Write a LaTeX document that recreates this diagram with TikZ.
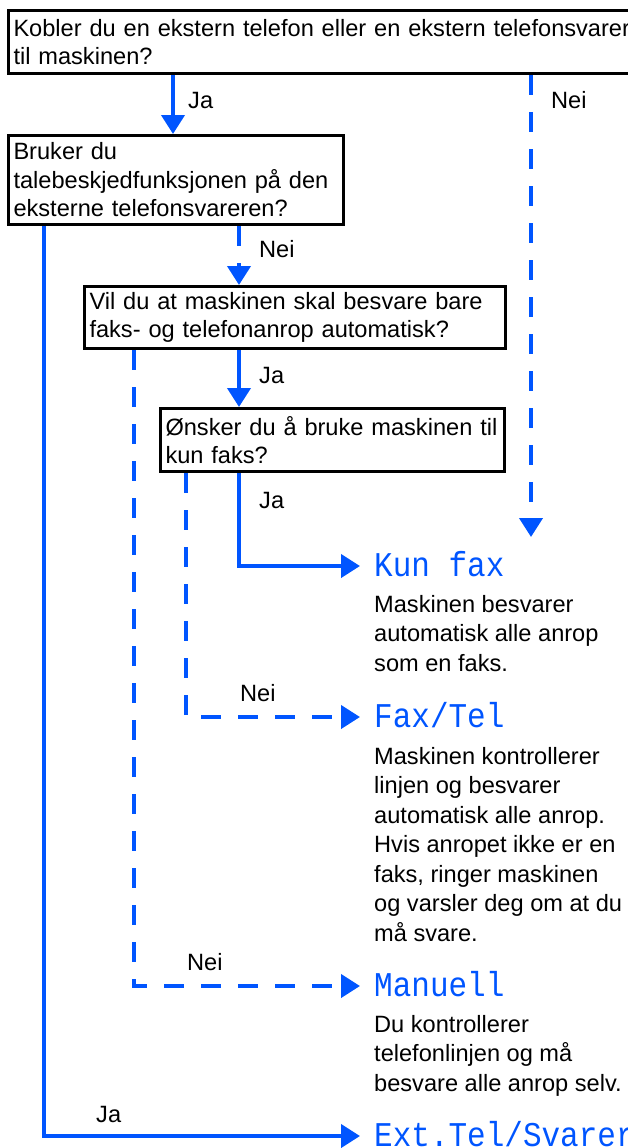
\documentclass[tikz,border=0pt]{standalone}
\usepackage{fontspec}
\usepackage{graphicx}
\setmainfont{Liberation Sans}
\newfontfamily\lcdfont{Liberation Mono}
\usetikzlibrary{arrows.meta,calc}
\definecolor{flowblue}{RGB}{0,85,255}
\begin{document}
\begin{tikzpicture}[x=1pt,y=-1pt,
  qbox/.style={draw=black, line width=3pt, inner xsep=5pt, inner ysep=0pt, align=left,
    anchor=north west, font=\fontsize{23.6}{28.5}\selectfont},
  desc/.style={inner sep=0pt, anchor=north west, align=left, font=\fontsize{23.6}{29.5}\selectfont},
  lbl/.style={inner sep=0pt, anchor=base west, font=\fontsize{23.6}{28.5}\selectfont},
  head/.style={inner sep=0pt, anchor=base west, text=flowblue, font=\fontsize{31}{31}\lcdfont},
  yes/.style={draw=flowblue, line width=4pt, line join=miter, -{Triangle[length=19pt,width=23pt]}},
  no/.style={yes, dash pattern=on 20pt off 17pt},
]
\useasboundingbox (0,0) rectangle (628,1148);
\clip (0,0) rectangle (628,1148);

% question boxes
\node[qbox, text width=650pt, minimum height=63pt] (box1) at (7,9)
  {\mbox{Kobler du en ekstern telefon eller en ekstern telefonsvarer}\\til maskinen?};
\node[qbox, text width=325pt, minimum height=89pt] (box2) at (7,134)
  {Bruker du\\talebeskjedfunksjonen på den\\eksterne telefonsvareren?};
\node[qbox, text width=411pt, minimum height=62pt] (box3) at (83,285)
  {Vil du at maskinen skal besvare bare\\faks- og telefonanrop automatisk?};
\node[qbox, text width=334pt, minimum height=63pt] (box4) at (159,407)
  {Ønsker du å bruke maskinen til\\kun faks?};

% outcome headings
\node[head] (kunfax)  at (374,576)  {\scalebox{1}[1.12]{Kun fax}};
\node[head] (faxtel)  at (374,727)  {\scalebox{1}[1.12]{Fax/Tel}};
\node[head] (manuell) at (374,996)  {\scalebox{1}[1.12]{Manuell}};
\node[head] (exttel)  at (374,1146) {\scalebox{1}[1.12]{Ext.Tel/Svarer}};

% descriptions
\node[desc] (d1) at (374,595) {Maskinen besvarer\\automatisk alle anrop\\som en faks.};
\node[desc] (d2) at (374,747) {Maskinen kontrollerer\\linjen og besvarer\\automatisk alle anrop.\\Hvis anropet ikke er en\\faks, ringer maskinen\\og varsler deg om at du\\må svare.};
\node[desc] (d3) at (374,1015) {Du kontrollerer\\telefonlinjen og må\\besvare alle anrop selv.};

% labels
\node[lbl] (lja1)  at (188,108)  {Ja};
\node[lbl] (lnei1) at (551,108)  {Nei};
\node[lbl] (lnei2) at (259,257)  {Nei};
\node[lbl] (lja2)  at (259,383)  {Ja};
\node[lbl] (lja3)  at (259,508)  {Ja};
\node[lbl] (lnei3) at (240,701)  {Nei};
\node[lbl] (lnei4) at (187,970)  {Nei};
\node[lbl] (lja4)  at (96,1122)  {Ja};

\coordinate (neiend) at ($(kunfax.base west)+(157,-39)$);

% connectors
\draw[yes] ($(box1.south west)+(166,0)$) -- ($(box2.north west)+(166,0)$);
\draw[no]  ($(box1.south west)+(524,0)$) -- (neiend);
\draw[no]  ($(box2.south west)+(232,0)$) -- ($(box3.north west)+(156,0)$);
\draw[yes] ($(box2.south west)+(37,0)$) |- ($(exttel.base west)+(-14,-10)$);
\draw[yes] ($(box3.south west)+(156,0)$) -- ($(box4.north west)+(80,0)$);
\draw[no]  ($(box3.south west)+(51,0)$) |- ($(manuell.base west)+(-14,-10)$);
\draw[yes] ($(box4.south west)+(80,0)$) |- ($(kunfax.base west)+(-14,-10)$);
\draw[no]  ($(box4.south west)+(27,0)$) |- ($(faxtel.base west)+(-14,-10)$);
\end{tikzpicture}
\end{document}
